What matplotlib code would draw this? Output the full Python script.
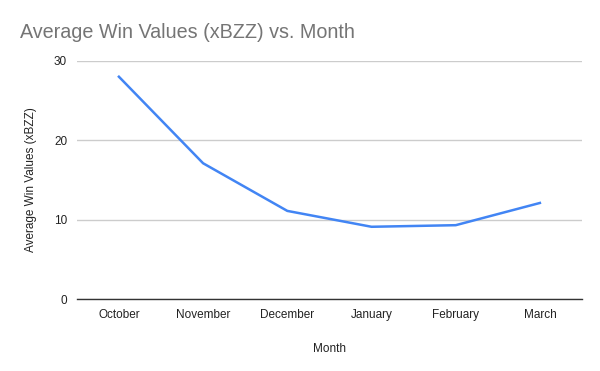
import matplotlib
matplotlib.use("Agg")
import matplotlib.pyplot as plt

months = ["October", "November", "December", "January", "February", "March"]
avg_win = [28.0, 17.1, 11.1, 9.1, 9.3, 12.1]
y_ticks = [0, 10, 20, 30]

plt.rcParams["font.family"] = ["Liberation Sans", "DejaVu Sans"]

fig = plt.figure(figsize=(6, 3.71), dpi=100)
ax = fig.add_axes([0.128, 0.194, 0.842, 0.642])

x = list(range(len(months)))
ax.plot(x, avg_win, color="#4285F4", linewidth=1.8, solid_joinstyle="round", zorder=3)

ax.set_xlim(-0.5, len(months) - 0.5)
ax.set_ylim(0, 30)
ax.set_yticks(y_ticks)
ax.set_xticks(x)
ax.set_xticklabels(months)

ax.grid(axis="y", color="#cccccc", linewidth=1)
ax.set_axisbelow(True)
for s in ["top", "right", "left"]:
    ax.spines[s].set_visible(False)
ax.spines["bottom"].set_color("#333333")
ax.spines["bottom"].set_linewidth(1)
ax.tick_params(axis="both", length=0, labelsize=8.5, colors="#222222")
ax.tick_params(axis="x", pad=7)
ax.tick_params(axis="y", pad=7)

ax.set_xlabel("Month", fontsize=8.5, color="#222222", labelpad=16)
ax.set_ylabel("Average Win Values (xBZZ)", fontsize=8.5, color="#222222", labelpad=12)

fig.text(20 / 600, 1 - 32 / 371, "Average Win Values (xBZZ) vs. Month",
         fontsize=14.2, color="#757575", va="center", ha="left")

fig.savefig("out.png", dpi=100, facecolor="white")
